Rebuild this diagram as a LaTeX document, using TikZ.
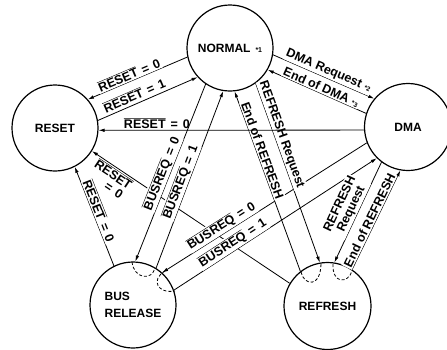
\documentclass[tikz,border=0pt]{standalone}
\usepackage{fontspec}
\setmainfont{Liberation Sans}
\usetikzlibrary{arrows.meta}
\newcommand\ovl[1]{$\overline{\mbox{#1}}$}
\newcommand\eqs{\hspace{0.4em}=\hspace{0.4em}}
\newcommand\smallnote[1]{\hspace{4pt}{\fontsize{6.5}{6.5}\selectfont #1}}
\begin{document}
\begin{tikzpicture}[x=1pt,y=-1pt,
  st/.style={circle,draw,line width=1.2pt,minimum size=86pt,inner sep=0pt,
    font=\bfseries\fontsize{12}{17}\selectfont},
  tr/.style={line width=0.8pt,-{Latex[length=6pt,width=3.5pt]}},
  lab/.style={sloped,above,fill=white,inner sep=1.2pt,
    font=\bfseries\fontsize{12.5}{12.5}\selectfont},
  dsh/.style={line width=0.8pt,dash pattern=on 3pt off 2pt}
]
\useasboundingbox (0,0) rectangle (447,349);

% states
\node[st] (normal) at (230,48) {NORMAL\hspace{5pt}{\fontsize{7}{7}\selectfont *1}};
\node[st] (reset) at (55,128) {RESET};
\node[st,minimum size=87pt] (dma) at (408,127) {DMA};
\node[st,align=left] (bus) at (133,305) {BUS\\RELEASE};
\node[st,minimum size=87pt] (refresh) at (327.5,306) {REFRESH};

% transitions
\draw[tr] (normal.192) -- (reset.41);
\draw[tr] (reset.10) -- (normal.222);
\draw[tr] (normal.351) -- (dma.140);
\draw[tr] (dma.162) -- (normal.330);
\draw[tr] (normal.236) -- (bus.87);
\draw[tr] (bus.58) -- (normal.261);
\draw[tr] (bus.116) -- (reset.297);
\draw[tr] (refresh.149) -- (reset.328);
\draw[tr] (normal.306) -- (refresh.100);
\draw[tr] (refresh.128) -- (normal.276);
\draw[tr] (dma.233) -- (refresh.81);
\draw[tr] (refresh.56) -- (dma.260);
\draw[tr] (dma.201) -- (bus.48);
\draw[tr] (bus.20) -- (dma.225);

% labels
\path (reset.41) -- node[lab,pos=0.44] {\ovl{RESET}\eqs0} (normal.192);
\path (reset.10) -- node[lab,pos=0.4,above=2pt] {\ovl{RESET}\eqs1} (normal.222);
\path (normal.351) -- node[lab,pos=0.52] {DMA Request\smallnote{*2}} (dma.140);
\path (normal.330) -- node[lab,pos=0.52] {End of DMA\smallnote{*3}} (dma.162);
\path (bus.87) -- node[lab,pos=0.48] {\ovl{BUSREQ}\eqs0} (normal.236);
\path (bus.58) -- node[lab,pos=0.47] {\ovl{BUSREQ}\eqs1} (normal.261);
\path (reset.297) -- node[lab,pos=0.47] {\ovl{RESET}\eqs0} (bus.116);
\path (reset.328) -- node[lab,pos=0.13,below,align=left,fill=none] {\ovl{RESET}\\\hspace*{20pt}=\hspace{0.4em}0} (refresh.149);
\path (normal.306) -- node[lab,pos=0.3] {REFRESH Request} (refresh.100);
\path (normal.276) -- node[lab,pos=0.34] {End of REFRESH} (refresh.128);
\path (refresh.81) -- node[lab,pos=0.5,align=center] {REFRESH\\Request} (dma.233);
\path (refresh.56) -- node[lab,pos=0.47] {End of REFRESH} (dma.260);
\path (bus.48) -- node[lab,pos=0.31] {\ovl{BUSREQ}\eqs0} (dma.201);
\path (bus.20) -- node[lab,pos=0.31] {\ovl{BUSREQ}\eqs1} (dma.225);

% horizontal reset line on top
\draw[tr] (dma.184) -- (reset.357);
\path (reset.357) -- node[lab,pos=0.22,fill=none] {\ovl{RESET}\eqs0} (dma.184);

% dashed continuity arcs
\draw[dsh] (132,262) .. controls (134,279) and (152,281) .. (155,268);
\draw[dsh] (165,271) .. controls (150,280) and (158,294) .. (175,291);
\draw[dsh] (301,272) .. controls (304,286) and (321,288) .. (321,263);
\draw[dsh] (333,264) .. controls (332,284) and (348,284) .. (352,271);
\end{tikzpicture}
\end{document}
